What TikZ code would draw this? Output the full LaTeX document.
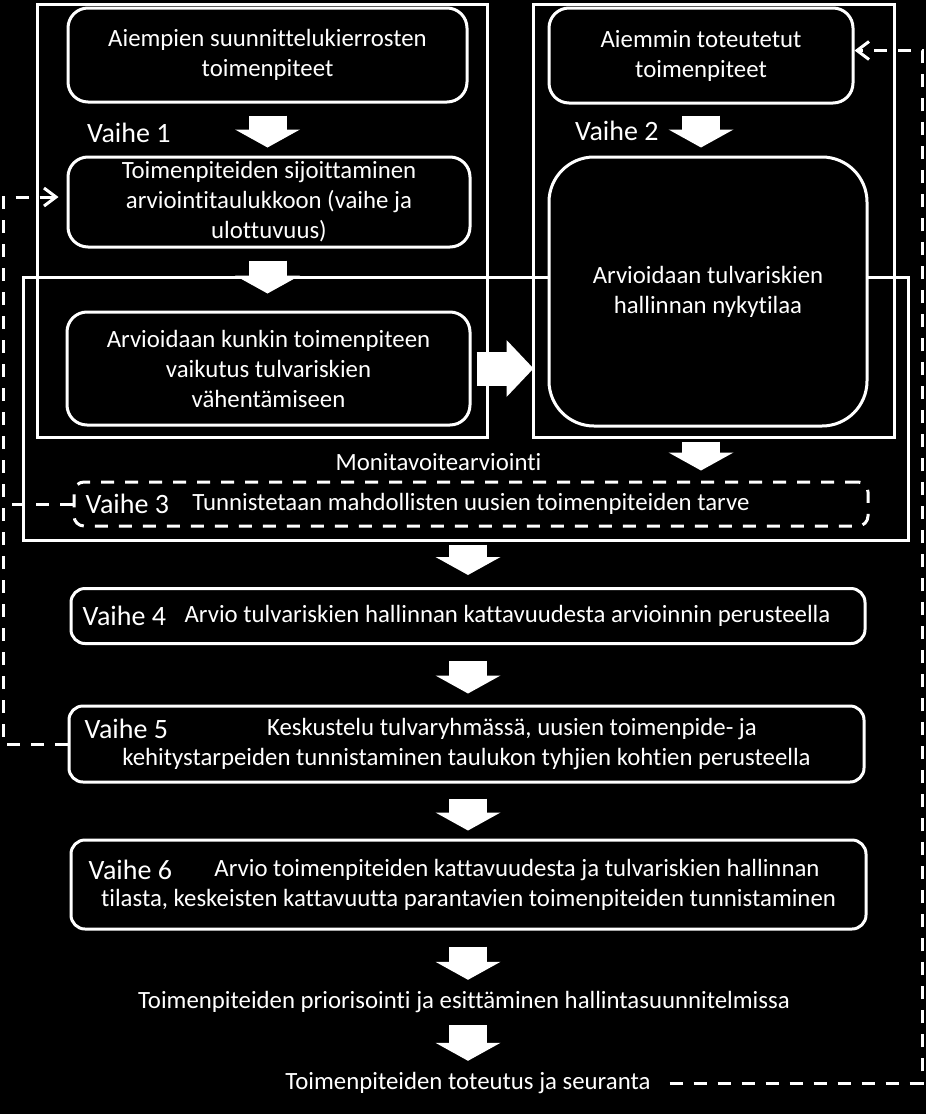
\documentclass[tikz,border=0pt]{standalone}
\usepackage{fontspec}
\setmainfont{Carlito}[Ligatures=NoCommon]
\usetikzlibrary{arrows.meta,positioning}

\begin{document}
\begin{tikzpicture}[x=1pt,y=-1pt,
	every node/.style={text=white, inner sep=0pt, font=\fontsize{24.8}{30}\selectfont},
	box/.style={draw=white, line width=3pt, fill=black, rounded corners=#1, align=center},
	box/.default=20pt,
	vaihe/.style={font=\fontsize{28}{32}\selectfont, anchor=west},
	txt/.style={text height=18pt, text depth=6pt},
	frame/.style={draw=white, line width=3pt},
	blockdown/.style={white, line width=38pt, -{Triangle[width=65pt,length=18pt,line width=0pt]}},
	blockright/.style={white, line width=34pt, -{Triangle[width=57pt,length=27pt,line width=0pt]}},
	feedback/.style={white, line width=3pt, dash pattern=on 13pt off 11pt}]
		
		% Background and size of the page
		\fill[black] (0,0) rectangle (926,1114);
		\useasboundingbox (0,0) rectangle (926,1114);
		
		% Frames of the phases
		\draw[frame] (37,4) rectangle (487,437);
		\draw[frame] (533,4) rectangle (894,437);
		\draw[frame] (23,277) rectangle (908,540);
		
		% Boxes of phase 1
		\node[box, minimum width=399pt, minimum height=94pt] (a1) at (267.5,55) {Aiempien suunnittelukierrosten\\toimenpiteet};
		\node[box, minimum width=402pt, minimum height=90pt] (a2) at (269,202) {Toimenpiteiden sijoittaminen\\arviointitaulukkoon (vaihe ja\\ulottuvuus)};
		\node[box, minimum width=403pt, minimum height=113pt] (a3) at (268.5,368.5) {Arvioidaan kunkin toimenpiteen\\vaikutus tulvariskien\\vähentämiseen};
		\node[vaihe] (vh1) at (87,133) {Vaihe 1};
		
		% Boxes of phase 2
		\node[box, minimum width=304pt, minimum height=95pt] (b1) at (701,55.5) {Aiemmin toteutetut\\toimenpiteet};
		\node[box=45pt, minimum width=318pt, minimum height=269pt] (b2) at (708,291.5) {Arvioidaan tulvariskien\\hallinnan nykytilaa};
		\node[vaihe] (vh2) at (575,131) {Vaihe 2};
		
		% Phases 3 to 6
		\node (moni) at (438.5,462) {Monitavoitearviointi};
		\node[box=10pt, dash pattern=on 13pt off 11pt, minimum width=794pt, minimum height=44pt] (v3) at (471,504) {Tunnistetaan mahdollisten uusien toimenpiteiden tarve};
		\node[box=14pt, minimum width=794pt, minimum height=55pt] (v4) at (468,616) {\hspace*{79pt}Arvio tulvariskien hallinnan kattavuudesta arvioinnin perusteella};
		\node[box=14pt, minimum width=795pt, minimum height=76pt] (v5) at (466.5,744) {\hspace*{91pt}Keskustelu tulvaryhmässä, uusien toimenpide- ja\\kehitystarpeiden tunnistaminen taulukon tyhjien kohtien perusteella};
		\node[box=14pt, minimum width=795pt, minimum height=89pt] (v6) at (468.5,884.5) {\hspace*{97pt}Arvio toimenpiteiden kattavuudesta ja tulvariskien hallinnan\\tilasta, keskeisten kattavuutta parantavien toimenpiteiden tunnistaminen};
		\node[vaihe, right=13pt of v3.west] (vh3) {Vaihe 3};
		\node[vaihe, right=13pt of v4.west] (vh4) {Vaihe 4};
		\node[vaihe, right=17pt of v5.west, yshift=15pt] (vh5) {Vaihe 5};
		\node[vaihe, right=19pt of v6.west, yshift=15pt] (vh6) {Vaihe 6};
		
		% Last steps
		\node[txt] (prior) at (464,1002) {Toimenpiteiden priorisointi ja esittäminen hallintasuunnitelmissa};
		\node[txt] (tot) at (468,1083) {Toimenpiteiden toteutus ja seuranta};
		
		% Block arrows
		\draw[blockdown, shorten <=12pt, shorten >=8pt] (a1.south) -- (a1.south |- a2.north);
		\draw[blockdown, shorten <=12pt, shorten >=17pt] (a2.south -| a1.south) -- (a1.south |- a3.north);
		\draw[blockdown, shorten <=11pt, shorten >=8pt] (b1.south) -- (b1.south |- b2.north);
		\draw[blockdown, shorten <=14pt, shorten >=10pt] (b2.south -| b1.south) -- (b1.south |- v3.north);
		\draw[blockright, shorten <=5pt, shorten >=14pt] (a3.east) -- (a3.east -| b2.west);
		\draw[blockdown, shorten <=17pt, shorten >=12pt] (v3.south -| v4.north) -- (v4.north);
		\draw[blockdown, shorten <=16pt, shorten >=11pt] (v4.south) -- (v4.south |- v5.north);
		\draw[blockdown, shorten <=15pt, shorten >=8pt] (v5.south -| v4.south) -- (v4.south |- v6.north);
		\draw[blockdown, shorten <=16pt, shorten >=10pt] (v6.south -| v4.south) -- (v4.south |- prior.north);
		\draw[blockdown, shorten <=11pt, shorten >=10pt] (prior.south -| v4.south) -- (v4.south |- tot.north);
		
		% Dashed feedback lines
		\coordinate (lft) at (3,0);
		\coordinate (rgt) at (922,0);
		\draw[feedback] (v3.west) -- (v3.west -| lft);
		\draw[feedback, -{Straight Barb[length=12pt,width=18pt]}, shorten >=8pt] (v5.west) -- (v5.west -| lft) |- ([yshift=5pt]a2.west);
		\draw[feedback, -{Straight Barb[length=12pt,width=18pt]}, shorten <=19pt] (tot.east) -- (tot.east -| rgt) |- ([yshift=5pt]b1.east);
		
	\end{tikzpicture}
\end{document}
